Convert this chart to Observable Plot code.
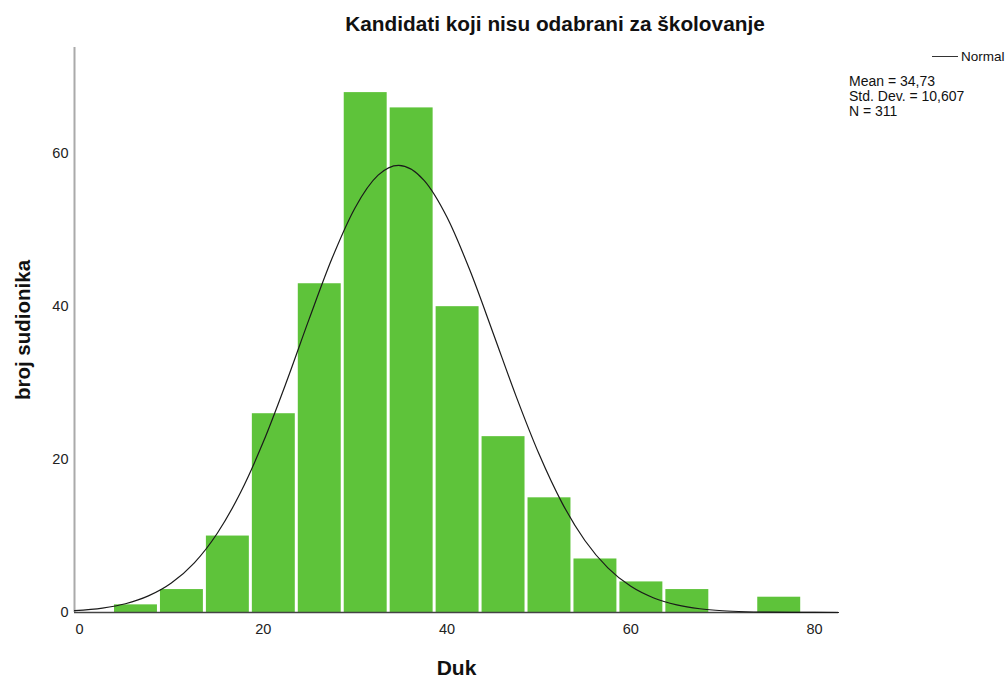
<!DOCTYPE html>
<html>
<head>
<meta charset="utf-8">
<script src="https://cdn.jsdelivr.net/npm/d3@7"></script>
<script src="https://cdn.jsdelivr.net/npm/@observablehq/plot@0.6"></script>
<style>
  html, body { margin: 0; padding: 0; background: #fff; }
  body { width: 1008px; height: 681px; overflow: hidden; position: relative; font-family: "Liberation Sans", Arial, sans-serif; color: #111; }
  #title { height: 40px; box-sizing: border-box; padding-top: 13px; width: 1110px; text-align: center; font-size: 20.8px; font-weight: bold; line-height: 22px; }
  #legend { position: absolute; left: 932px; top: 49px; font-size: 13.5px; line-height: 15px; display: flex; align-items: center; }
  #legend .sw { width: 26px; height: 0; border-top: 1.3px solid #333; margin-right: 3px; }
  #stats { position: absolute; left: 849px; top: 74px; font-size: 14px; line-height: 15px; }
  svg { display: block; }
</style>
</head>
<body>
<div id="title">Kandidati koji nisu odabrani za školovanje</div>
<div id="chart"></div>
<div id="legend"><span class="sw"></span><span>Normal</span></div>
<div id="stats"></div>
<script>
// Histogram bins (Duk) and counts (broj sudionika)
const binLower = [3.65, 8.65, 13.65, 18.65, 23.65, 28.65, 33.65, 38.65, 43.65, 48.65, 53.65, 58.65, 63.65, 68.65, 73.65];
const binUpper = [8.65, 13.65, 18.65, 23.65, 28.65, 33.65, 38.65, 43.65, 48.65, 53.65, 58.65, 63.65, 68.65, 73.65, 78.65];
const counts   = [1, 3, 10, 26, 43, 68, 66, 40, 23, 15, 7, 4, 3, 0, 2];

// Fitted normal curve
const normalX = [-0.54, 2.5, 5, 7.5, 10, 12.5, 15, 17.5, 20, 22.5, 25, 27.5, 30, 32.5, 34.73, 37.5, 40, 42.5, 45, 47.5, 50, 52.5, 55, 57.5, 60, 62.5, 65, 67.5, 70, 72.5, 75, 77.5, 80, 82.6];
const normalY = [0.24, 0.58, 1.15, 2.17, 3.86, 6.50, 10.37, 15.63, 22.29, 30.08, 38.40, 46.36, 52.95, 57.20, 58.48, 56.52, 51.69, 44.72, 36.60, 28.33, 20.75, 14.37, 9.42, 5.84, 3.42, 1.90, 1.00, 0.49, 0.23, 0.10, 0.04, 0.01, 0.006, 0.002];

// Axis ticks and texts
const xTicks = [0, 20, 40, 60, 80];
const yTicks = [0, 20, 40, 60];
const xDomain = [-0.54, 82.6];
const yDomain = [0, 73.9];
const statsLines = ["Mean = 34,73", "Std. Dev. = 10,607", "N = 311"];

const bins = counts.map((c, i) => ({lo: binLower[i], hi: binUpper[i], count: c}));
const normal = normalX.map((x, i) => ({x, y: normalY[i]}));

document.getElementById("stats").innerHTML = statsLines.join("<br>");

const chart = Plot.plot({
  width: 1008,
  height: 641,
  marginTop: 7,
  marginBottom: 69,
  marginLeft: 74,
  marginRight: 170,
  x: {domain: xDomain},
  y: {domain: yDomain},
  style: {fontFamily: "'Liberation Sans', Arial, sans-serif", fontSize: "14.5px", color: "#222", background: "white"},
  marks: [
    Plot.rectY(bins, {x1: "lo", x2: "hi", y: "count", fill: "#5ec33a", insetLeft: 1.5, insetRight: 1.5}),
    Plot.ruleX([xDomain[0]], {stroke: "#aaa", strokeWidth: 2}),
    Plot.ruleY([0], {stroke: "#444", strokeWidth: 1.5}),
    Plot.line(normal, {x: "x", y: "y", stroke: "#1a1a1a", strokeWidth: 1.2, curve: "monotone-x"}),
    Plot.axisY({ticks: yTicks, tickSize: 0, tickPadding: 6, label: null}),
    Plot.axisX({ticks: xTicks, tickSize: 0, tickPadding: 11, label: null}),
    Plot.text(["broj sudionika"], {frameAnchor: "left", rotate: -90, dx: -51, textAnchor: "middle", lineAnchor: "middle", fontWeight: "bold", fontSize: 20.5, fill: "#111"}),
    Plot.text(["Duk"], {frameAnchor: "bottom", dy: 56, textAnchor: "middle", lineAnchor: "middle", fontWeight: "bold", fontSize: 21, fill: "#111"})
  ]
});
document.getElementById("chart").appendChild(chart);
</script>
</body>
</html>
